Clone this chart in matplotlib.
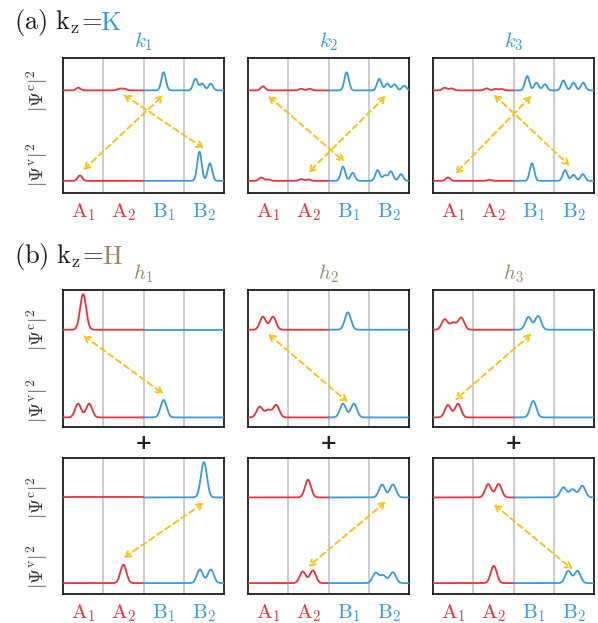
import matplotlib
matplotlib.use("Agg")
import matplotlib.pyplot as plt
import numpy as np

plt.rcParams['mathtext.fontset'] = 'cm'
plt.rcParams['font.family'] = 'DejaVu Serif'

RED = '#e8323e'
BLUE = '#3a9ad9'
GOLD = '#f8c21c'
BROWN = '#a08768'
GRAY = '#c4c4c4'

sites = [r'$\mathrm{A}_1$', r'$\mathrm{A}_2$', r'$\mathrm{B}_1$', r'$\mathrm{B}_2$']
site_colors = [RED, RED, BLUE, BLUE]

# peaks: (centre in site units 0..4, height in axes units)
# row (a) kz=K
k1_c = [(0.38, 0.02), (1.4, 0.012), (1.52, 0.012), (2.5, 0.135), (3.29, 0.086), (3.46, 0.05), (3.67, 0.05)]
k1_v = [(0.42, 0.04), (3.39, 0.216), (3.65, 0.13)]
k2_c = [(0.37, 0.03), (1.32, 0.012), (1.53, 0.012), (2.45, 0.134), (3.26, 0.085), (3.46, 0.05), (3.64, 0.045), (3.88, 0.035)]
k2_v = [(0.33, 0.025), (0.5, 0.01), (1.32, 0.012), (1.5, 0.01), (2.36, 0.105), (2.6, 0.06), (3.22, 0.08), (3.4, 0.04), (3.55, 0.07), (3.8, 0.05)]
k3_c = [(0.29, 0.02), (0.46, 0.015), (1.33, 0.015), (1.55, 0.01), (1.7, 0.01), (2.34, 0.106), (2.57, 0.057), (2.78, 0.045), (3.24, 0.074), (3.49, 0.057), (3.73, 0.057)]
k3_v = [(0.37, 0.025), (1.4, 0.008), (2.46, 0.13), (3.28, 0.08), (3.49, 0.045), (3.72, 0.05)]
# row (b) kz=H, first set
h1_c = [(0.5, 0.26)]
h1_v = [(0.375, 0.1), (0.65, 0.1), (2.5, 0.127)]
h2_c = [(0.37, 0.095), (0.62, 0.095), (2.48, 0.127)]
h2_v = [(0.29, 0.078), (0.5, 0.054), (0.7, 0.09), (2.36, 0.1), (2.63, 0.1)]
h3_c = [(0.29, 0.076), (0.5, 0.05), (0.7, 0.088), (2.37, 0.093), (2.61, 0.1)]
h3_v = [(0.37, 0.09), (0.62, 0.1), (2.49, 0.12)]
# row (b) kz=H, second set
h1b_c = [(3.5, 0.26)]
h1b_v = [(1.5, 0.135), (3.4, 0.1), (3.67, 0.1)]
h2b_c = [(1.49, 0.13), (3.33, 0.095), (3.6, 0.095)]
h2b_v = [(1.36, 0.085), (1.61, 0.093), (3.17, 0.075), (3.36, 0.056), (3.6, 0.08)]
h3b_c = [(1.37, 0.098), (1.63, 0.098), (3.24, 0.074), (3.47, 0.06), (3.71, 0.086)]
h3b_v = [(1.51, 0.127), (3.36, 0.09), (3.59, 0.09)]

# double arrows: (x0, y0, x1, y1)
k1_arrows = [(0.5, 0.17, 2.5, 0.725), (1.5, 0.73, 3.5, 0.33)]
k2_arrows = [(0.5, 0.72, 2.4, 0.23), (3.43, 0.72, 1.49, 0.15)]
k3_arrows = [(2.45, 0.72, 0.54, 0.14), (1.51, 0.73, 3.4, 0.2)]
h1_arrows = [(0.5, 0.67, 2.5, 0.24)]
h2_arrows = [(0.5, 0.68, 2.48, 0.18)]
h3_arrows = [(2.45, 0.68, 0.54, 0.195)]
h1b_arrows = [(3.5, 0.67, 1.5, 0.265)]
h2b_arrows = [(3.43, 0.68, 1.49, 0.2)]
h3b_arrows = [(1.51, 0.66, 3.47, 0.18)]

rows = [
    [(k1_c, k1_v, k1_arrows), (k2_c, k2_v, k2_arrows), (k3_c, k3_v, k3_arrows)],
    [(h1_c, h1_v, h1_arrows), (h2_c, h2_v, h2_arrows), (h3_c, h3_v, h3_arrows)],
    [(h1b_c, h1b_v, h1b_arrows), (h2b_c, h2b_v, h2b_arrows), (h3b_c, h3b_v, h3b_arrows)],
]
baselines = [(0.76, 0.09), (0.71, 0.07), (0.71, 0.08)]
widths = [0.055, 0.075, 0.075]

W, H = 598, 623
fig = plt.figure(figsize=(W / 100, H / 100), dpi=100)

col_left = [63, 248, 433]
row_top = [58, 290, 458]
row_bot = [193, 427, 594]
pw = 161

x = np.linspace(0, 4, 800)


def profile(peaks, base, sig):
    y = np.full_like(x, base)
    for c, h in peaks:
        y += h * np.exp(-0.5 * ((x - c) / sig) ** 2)
    return y


for r in range(3):
    for c in range(3):
        l = col_left[c] / W
        b = 1 - row_bot[r] / H
        h = (row_bot[r] - row_top[r]) / H
        ax = fig.add_axes([l, b, pw / W, h])
        pc, pv, arrows = rows[r][c]
        bc, bv = baselines[r]
        for peaks, base in [(pc, bc), (pv, bv)]:
            y = profile(peaks, base, widths[r])
            m = x <= 2
            ax.plot(x[m], y[m], color=RED, lw=1.3, zorder=3)
            ax.plot(x[x >= 2], y[x >= 2], color=BLUE, lw=1.3, zorder=3)
        for xv in [1, 2, 3]:
            ax.axvline(xv, color=GRAY, lw=1.2, zorder=1)
        for x0, y0, x1, y1 in arrows:
            ax.annotate('', xy=(x1, y1), xytext=(x0, y0),
                        arrowprops=dict(arrowstyle='<->,head_length=0.4,head_width=0.22',
                                        color=GOLD, lw=1.4, linestyle=(0, (3, 2)),
                                        shrinkA=0, shrinkB=0), zorder=4)
        ax.set_xlim(0, 4)
        ax.set_ylim(0, 1)
        ax.set_xticks([])
        ax.set_yticks([])
        for s in ax.spines.values():
            s.set_linewidth(1.3)
            s.set_color('#1a1a1a')
        if r != 1:
            for i in range(4):
                ax.text(i + 0.5, -0.06, sites[i], color=site_colors[i], fontsize=15,
                        ha='center', va='top', transform=ax.transData)
        if c == 0:
            ax.text(-0.16, bc, r'$|\Psi^{\mathrm{c}}|^2$', rotation=90, fontsize=14,
                    ha='center', va='center', color='#333333', transform=ax.get_yaxis_transform())
            ax.text(-0.16, bv + 0.12, r'$|\Psi^{\mathrm{v}}|^2$', rotation=90, fontsize=14,
                    ha='center', va='center', color='#333333', transform=ax.get_yaxis_transform())

# panel labels above each column
k_labels = [r'$k_1$', r'$k_2$', r'$k_3$']
h_labels = [r'$h_1$', r'$h_2$', r'$h_3$']
for c in range(3):
    xc = (col_left[c] + pw / 2) / W
    fig.text(xc, 1 - 42 / H, k_labels[c], color=BLUE, fontsize=15, ha='center', va='center')
    fig.text(xc, 1 - 274 / H, h_labels[c], color=BROWN, fontsize=15, ha='center', va='center')
    fig.text(xc, 1 - 443 / H, '+', color='#222222', fontsize=15, ha='center', va='center',
             fontweight='bold')

# row titles, the K / H letter coloured and placed right after the black part
renderer = fig.canvas.get_renderer()
for ypix, lab, letter, col in [(22, 'a', 'K', BLUE), (257, 'b', 'H', BROWN)]:
    t = fig.text(14 / W, 1 - ypix / H, r'$(\mathrm{' + lab + r'})\ \mathrm{k_z}\!{=}$',
                 fontsize=19, ha='left', va='center', color='#1a1a1a')
    bb = t.get_window_extent(renderer)
    fig.text((bb.x1 - 2) / W, 1 - ypix / H, r'$\mathrm{' + letter + '}$', fontsize=19, color=col,
             ha='left', va='center')

fig.savefig('out.png', dpi=100)
